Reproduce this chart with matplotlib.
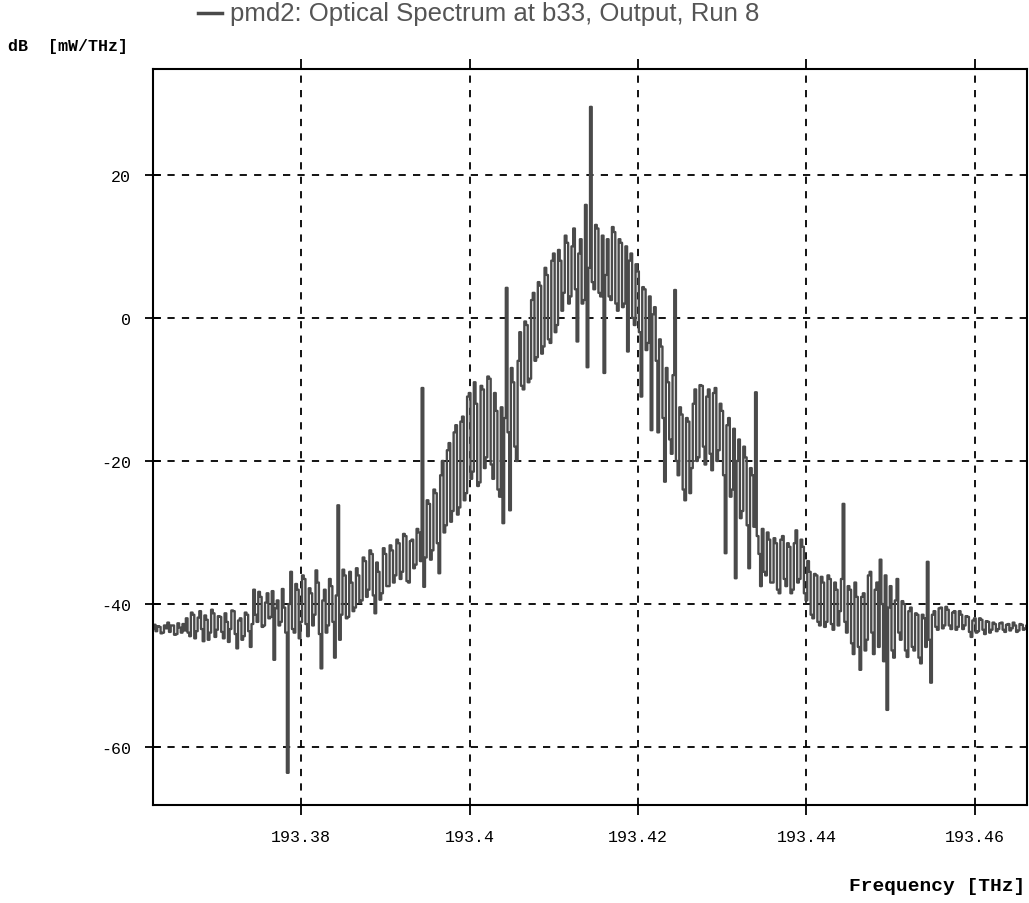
import matplotlib
matplotlib.use('Agg')
import matplotlib.pyplot as plt
import numpy as np

# Optical spectrum samples (dB re mW/THz), one every 0.2 GHz
freq_start = 193.3624
freq_step = 0.0002
power_db = [
    -43.5, -42.9, -43.8, -43.1, -43.2, -44.1, -44.0, -43.0, -43.4, -42.6,
    -43.9, -43.0, -43.0, -44.3, -44.2, -42.7, -43.3, -44.0, -42.8, -43.7,
    -42.0, -44.0, -44.5, -41.2, -41.5, -44.8, -43.8, -41.9, -41.0, -43.5,
    -45.2, -41.6, -42.2, -45.0, -44.0, -40.8, -41.3, -44.6, -43.6, -41.7,
    -41.8, -43.9, -44.8, -41.3, -42.5, -45.3, -43.5, -40.9, -41.0, -44.2,
    -46.2, -42.3, -42.0, -45.0, -44.5, -41.2, -41.5, -43.8, -46.0, -42.8,
    -38.0, -41.5, -42.5, -38.3, -39.0, -43.2, -43.0, -39.8, -38.5, -42.0,
    -41.8, -38.2, -47.8, -40.6, -39.5, -43.0, -42.5, -37.9, -40.5, -44.0,
    -63.6, -40.0, -35.5, -43.5, -44.0, -37.2, -38.0, -44.8, -42.5, -36.0,
    -36.5, -42.8, -44.5, -37.8, -38.5, -43.0, -41.5, -35.3, -37.0, -44.2,
    -49.0, -39.5, -38.0, -44.0, -43.0, -36.5, -37.5, -42.5, -47.5, -38.8,
    -26.2, -45.0, -41.5, -35.2, -36.0, -42.0, -41.8, -35.5, -37.0, -41.0,
    -40.5, -35.0, -36.0, -39.8, -39.5, -33.5, -34.0, -39.0, -38.0, -32.5,
    -33.0, -38.8, -41.3, -34.2, -35.5, -39.4, -38.5, -32.2, -33.0, -37.5,
    -37.5, -31.8, -32.5, -37.0, -36.0, -31.0, -31.5, -36.5, -35.5, -30.2,
    -30.5, -36.8, -37.0, -31.2, -31.0, -35.0, -34.5, -29.5, -30.0, -34.0,
    -9.8, -37.6, -33.5, -25.5, -26.0, -33.8, -32.5, -24.0, -24.5, -31.5,
    -35.7, -22.0, -20.0, -30.0, -29.0, -18.5, -17.5, -28.5, -27.0, -16.0,
    -15.0, -27.5, -26.5, -14.5, -13.8, -25.5, -24.5, -11.0, -10.5, -22.5,
    -21.5, -9.0, -12.0, -23.5, -23.0, -9.5, -10.0, -21.0, -19.5, -8.2,
    -8.5, -20.5, -22.5, -10.5, -13.0, -24.0, -25.0, -12.5, -28.7, -14.0,
    4.2, -16.0, -26.9, -7.0, -9.0, -18.0, -20.0, -6.0, -2.0, -9.5,
    -10.0, -0.5, -1.0, -9.0, -8.5, 2.5, 3.5, -6.0, -5.5, 5.0,
    4.5, -5.0, -4.0, 7.0, 6.0, -3.0, -3.5, 8.0, 9.0, -2.0,
    -1.0, 9.5, 8.0, 1.0, 3.5, 11.5, 10.5, 2.0, 3.0, 10.0,
    12.5, 4.0, -3.3, 9.0, 11.0, 2.0, 2.5, 15.8, -6.9, 7.0,
    29.5, 5.0, 4.0, 13.0, 12.5, 3.5, 3.0, 11.5, -7.7, 6.0,
    11.0, 3.0, 2.5, 12.7, 12.0, 2.0, 1.0, 11.0, 10.5, 1.5,
    2.0, 10.0, -4.7, 8.0, 9.0, 0.0, -1.0, 7.5, 6.5, -2.0,
    -11.0, 4.3, 4.0, -4.5, -3.5, 3.0, -15.7, 0.5, 1.5, -6.0,
    -16.0, -3.0, -4.0, -14.0, -22.9, -7.0, -9.0, -17.0, -19.0, -8.0,
    3.9, -20.0, -22.0, -12.5, -13.5, -24.0, -25.5, -14.0, -14.5, -24.5,
    -21.0, -12.0, -10.0, -20.0, -19.5, -9.4, -9.5, -18.0, -20.5, -11.0,
    -10.0, -19.0, -21.3, -10.5, -9.8, -20.0, -18.5, -12.0, -13.0, -22.0,
    -32.9, -15.0, -14.0, -25.0, -24.0, -15.5, -36.4, -20.0, -17.0, -28.0,
    -27.0, -18.0, -19.5, -29.0, -35.0, -21.0, -22.0, -29.2, -10.4, -30.5,
    -33.0, -37.5, -29.5, -35.5, -36.0, -30.0, -31.0, -37.0, -37.0, -30.8,
    -31.5, -38.0, -38.5, -31.0, -30.5, -36.5, -37.5, -31.5, -32.0, -38.5,
    -38.0, -31.5, -29.7, -37.0, -36.5, -31.0, -32.0, -38.5, -39.5, -34.0,
    -35.5, -41.5, -42.0, -35.8, -36.0, -42.5, -43.0, -36.2, -37.0, -43.2,
    -42.5, -36.0, -36.5, -42.8, -43.6, -37.0, -38.0, -43.0, -41.0, -36.5,
    -26.0, -42.5, -44.0, -37.5, -38.0, -45.5, -47.0, -37.0, -39.0, -46.0,
    -49.2, -39.0, -38.5, -46.5, -45.0, -36.0, -35.5, -44.0, -47.0, -38.0,
    -37.0, -46.0, -33.8, -40.0, -48.0, -36.0, -54.8, -40.5, -37.5, -46.5,
    -47.5, -39.5, -36.5, -44.0, -45.0, -39.6, -40.0, -46.5, -47.4, -41.0,
    -40.5, -46.0, -46.5, -41.3, -41.5, -47.5, -48.3, -41.5, -42.0, -46.0,
    -34.1, -45.0, -51.0, -41.5, -41.0, -43.2, -43.6, -40.6, -40.5, -43.4,
    -43.0, -40.4, -40.8, -43.0, -43.5, -41.2, -41.0, -43.6, -43.2, -41.0,
    -41.5, -43.5, -43.0, -41.7, -41.8, -43.9, -44.6, -42.3, -42.0, -44.0,
    -43.8, -42.0, -42.2, -43.6, -44.2, -42.4, -42.5, -44.0, -43.6, -42.6,
    -42.8, -43.8, -43.5, -42.7, -42.6, -43.6, -43.9, -42.9, -42.8, -43.7,
    -43.4, -42.6, -43.0, -43.9, -43.7, -42.8, -42.9, -43.6, -43.4, -43.0,
]
freq = freq_start + freq_step * np.arange(len(power_db))

x_ticks = [193.38, 193.40, 193.42, 193.44, 193.46]
x_tick_labels = ["193.38", "193.4", "193.42", "193.44", "193.46"]
y_ticks = [20, 0, -20, -40, -60]
y_tick_labels = ["20", "0", "-20", "-40", "-60"]

plt.rcParams['axes.unicode_minus'] = False
mono = 'Liberation Mono'

fig = plt.figure(figsize=(10.29, 9.04), dpi=100)
ax = fig.add_axes([0.1487, 0.1084, 0.8494, 0.8142])

# stepped trace, like the analyser's bar-per-bin rendering
line_color = '#4a4a4a'
ax.plot(freq, power_db, color=line_color, linewidth=1.7, drawstyle='steps-mid')

ax.set_xlim(193.3624, 193.4662)
ax.set_ylim(-68.1, 34.8)

ax.set_xticks(x_ticks)
ax.set_xticklabels(x_tick_labels, family=mono, fontsize=12)
ax.set_yticks(y_ticks)
ax.set_yticklabels(y_tick_labels, family=mono, fontsize=12)

ax.grid(True, color='black', linestyle=(0, (4, 4)), linewidth=1.3)
ax.tick_params(axis='x', direction='out', length=7, width=1.3, pad=10, top=True)
ax.tick_params(axis='y', direction='inout', length=12, width=1.3, pad=10)

for spine in ax.spines.values():
    spine.set_linewidth(1.5)
    spine.set_color('black')

# legend entry drawn above the plot area
fig.add_artist(plt.Line2D([198 / 1029, 222 / 1029], [1 - 14 / 904, 1 - 14 / 904],
                          color=line_color, linewidth=2.5))
fig.text(230 / 1029, 1 - 14 / 904, "pmd2: Optical Spectrum at b33, Output, Run 8",
         family='Liberation Sans', fontsize=18.5, color='#555555', va='center', ha='left')

fig.text(8 / 1029, 1 - 47 / 904, "dB  [mW/THz]", family=mono, fontsize=12,
         fontweight='bold', va='center', ha='left')
fig.text(1025 / 1029, 1 - 887 / 904, "Frequency [THz]", family=mono, fontsize=14,
         fontweight='bold', va='center', ha='right')

fig.savefig('out.png', dpi=100)
plt.close(fig)
